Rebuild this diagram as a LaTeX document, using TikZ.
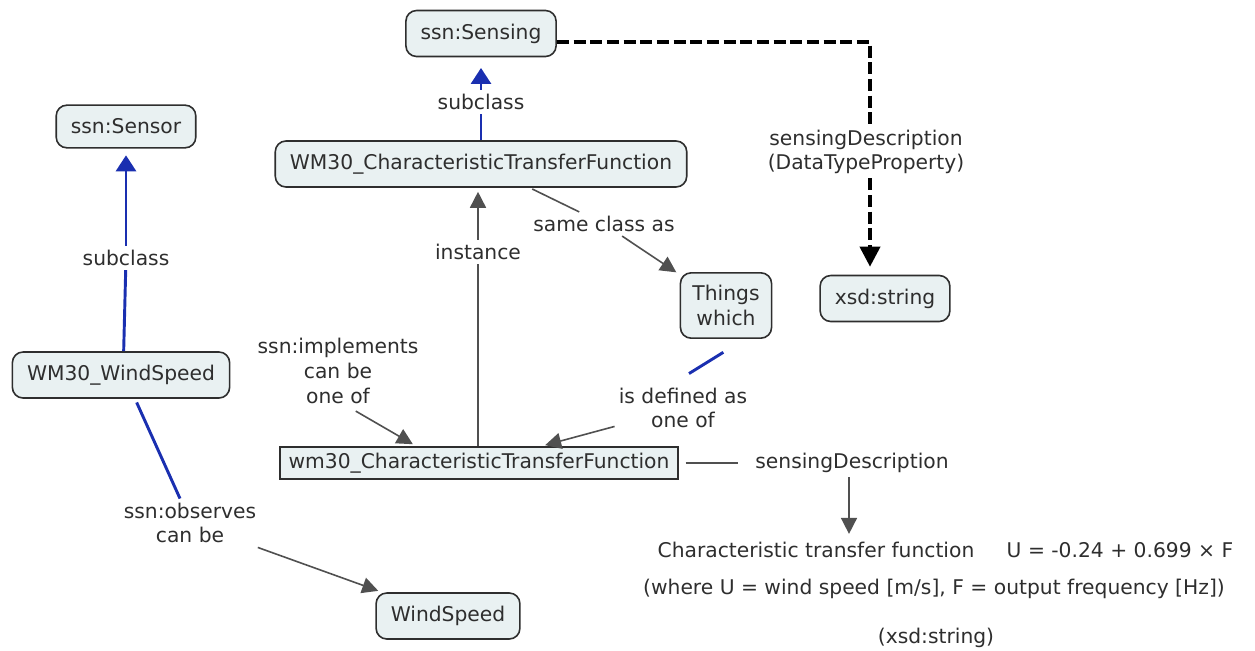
\documentclass[tikz,border=0pt]{standalone}
\usepackage{fontspec}
\setmainfont{DejaVu Sans}
\usetikzlibrary{arrows.meta,calc}
\definecolor{boxfill}{HTML}{E9F1F2}
\definecolor{linkblue}{HTML}{1A2FB0}
\definecolor{linkgray}{HTML}{505050}
\definecolor{inktext}{HTML}{2E2E2E}
\tikzset{
  basefont/.style={font=\fontsize{15.2}{18.5}\selectfont},
  concept/.style={basefont, draw=inktext, line width=1.2pt, fill=boxfill, rounded corners=8pt,
    text=inktext, inner xsep=11pt, minimum height=34.5pt, align=center},
  instbox/.style={basefont, draw=inktext, line width=1.2pt, fill=boxfill,
    text=inktext, inner xsep=6.5pt, minimum height=24pt},
  linklabel/.style={basefont, text=inktext, inner sep=3pt, align=center},
  plaintext/.style={basefont, text=inktext, inner sep=2pt},
  bluelink/.style={draw=linkblue, line width=2.2pt},
  bluearrow/.style={bluelink, -{Triangle[length=12pt,width=15pt]}, shorten >=5pt},
  graylink/.style={draw=linkgray, line width=1.2pt},
  grayarrow/.style={graylink, -{Triangle[length=12pt,width=12pt]}, shorten >=3pt},
  dashlink/.style={draw=black, line width=2.8pt, dash pattern=on 9pt off 3.5pt},
}
\begin{document}
\begin{tikzpicture}[x=0.75pt, y=-0.75pt]
\useasboundingbox (0,0) rectangle (1255,650);

% concepts
\node[concept] (sensing) at (481,33.5) {ssn:Sensing};
\node[concept, minimum height=32pt] (sensor) at (126,126.5) {ssn:Sensor};
\node[concept] (ctfclass) at (481,164) {WM30\_CharacteristicTransferFunction};
\node[concept] (xsd) at (885,298.5) {xsd:string};
\node[concept, minimum height=49pt, inner xsep=9pt] (things) at (726,305.5) {Things\\which};
\node[concept] (windsensor) at (121,375) {WM30\_WindSpeed};
\node[instbox] (ctfinst) at (479,463) {wm30\_CharacteristicTransferFunction};
\node[concept] (windspeed) at (448,616) {WindSpeed};

% link labels
\node[linklabel] (sub1) at (481,102) {subclass};
\node[linklabel] (sub2) at (126,258) {subclass};
\node[linklabel] (inst) at (478,252) {instance};
\node[linklabel] (same) at (604,224) {same class as};
\node[linklabel] (isdef) at (683,408) {is defined as\\one of};
\node[linklabel] (impl) at (338,371) {ssn:implements\\can be\\one of};
\node[linklabel] (obs) at (190,523) {ssn:observes\\can be};
\node[linklabel] (sdp) at (866,152) {sensingDescription\\(DataTypeProperty)};
\node[linklabel] (sdesc) at (852,463) {sensingDescription};

% literal value
\node[plaintext] (ctftext) at (816,550) {Characteristic transfer function};
\node[plaintext] (formula) at (1120,550) {U = -0.24 + 0.699 × F};
\node[plaintext] (where) at (934,589) {(where U = wind speed [m/s], F = output frequency [Hz])};
\node[plaintext] (xsdtext) at (936,638) {(xsd:string)};

% subclass links
\draw[bluelink] (ctfclass.north -| sub1) -- (sub1);
\draw[bluearrow, shorten >=8pt] (sub1) -- (sub1 |- sensing.south);
\draw[bluelink] ([xshift=2pt]windsensor.north) -- (sub2);
\draw[bluearrow] (sub2) -- (sub2 |- sensor.south);

% instance link
\draw[graylink] (ctfinst.north -| inst) -- (inst);
\draw[grayarrow] (inst) -- (inst |- ctfclass.south);

% same class as
\draw[graylink, shorten <=2pt] (ctfclass) -- (same);
\draw[grayarrow] (same) -- (things);

% is defined as one of
\draw[bluelink] ([xshift=-2pt, yshift=-10pt]things.south) -- ([xshift=4.5pt, yshift=7.5pt]isdef.north);
\draw[grayarrow] (isdef) -- (ctfinst);

% ssn:implements
\draw[grayarrow, shorten <=5pt] ([xshift=9pt]impl.south) -- ([xshift=-47pt]ctfinst.north);

% ssn:observes
\draw[bluelink, shorten <=3pt] ([xshift=10.5pt]windsensor.south) -- ([xshift=-7.5pt]obs.north);
\draw[grayarrow] (obs) -- (windspeed);

% datatype property
\draw[dashlink] ([yshift=-6.4pt]sensing.east) -| ([xshift=3pt]sdp.north);
\draw[dashlink, -{Triangle[length=15pt,width=15pt]}, shorten >=6pt]
  ([xshift=3pt]sdp.south) -- ([xshift=3pt]sdp.south |- xsd.north);

% sensing description of the instance
\draw[graylink, shorten <=5pt, shorten >=10pt] (ctfinst) -- (sdesc);
\draw[grayarrow, shorten >=4pt] ([xshift=-2.25pt]sdesc.south) -- ([xshift=-2.25pt]sdesc.south |- ctftext.north);
\end{tikzpicture}
\end{document}
